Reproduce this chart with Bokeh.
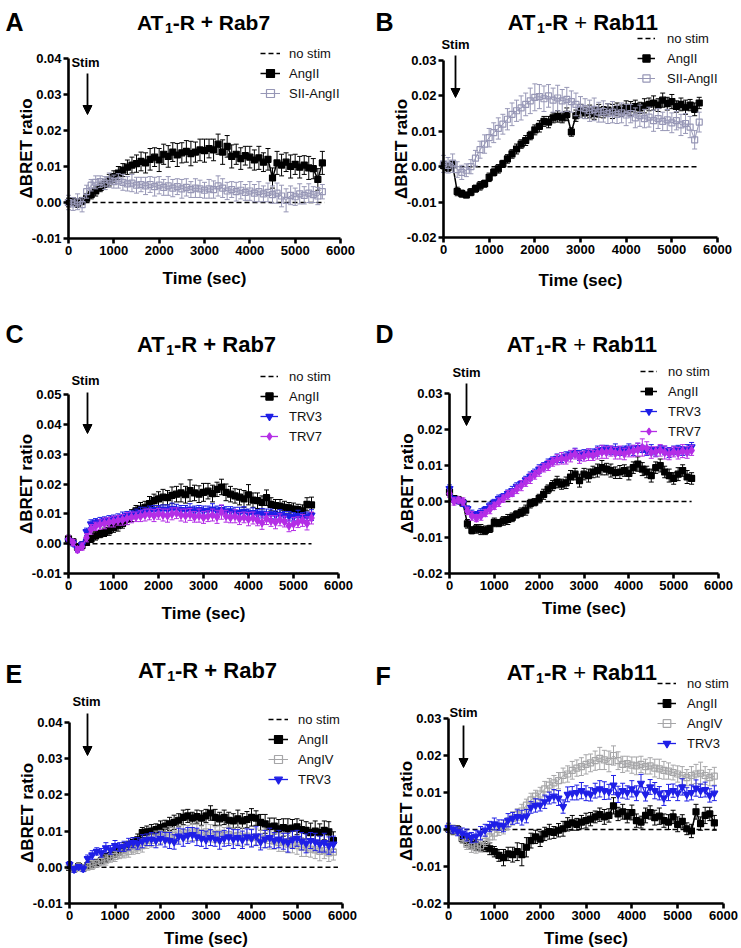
from bokeh.plotting import figure
from bokeh.models import (ColumnDataSource, Range1d, FixedTicker, PrintfTickFormatter,
                          Label, Arrow, NormalHead, Legend, LegendItem)
from bokeh.layouts import row, column
from bokeh.embed import file_html
from bokeh.resources import INLINE

FONT = "Liberation Sans"
X_TICKS = [0, 1000, 2000, 3000, 4000, 5000, 6000]
Y_TICKS_A = [-0.01, 0.0, 0.01, 0.02, 0.03, 0.04]
Y_TICKS_B = [-0.02, -0.01, 0.0, 0.01, 0.02, 0.03]
Y_TICKS_C = [-0.01, 0.0, 0.01, 0.02, 0.03, 0.04, 0.05]

# ---------------- Panel A : AT1-R + Rab7 ----------------
A_T = list(range(0, 5700, 100))
A_NOSTIM_T = [0, 5650]
A_NOSTIM_V = [0.0, 0.0]
A_ANGII = [0.0000, 0.0003, -0.0002, 0.0004, 0.0012, 0.0022, 0.0032, 0.0042, 0.0050, 0.0062,
           0.0072, 0.0082, 0.0090, 0.0098, 0.0104, 0.0108, 0.0114, 0.0110, 0.0120, 0.0126,
           0.0118, 0.0134, 0.0128, 0.0140, 0.0132, 0.0138, 0.0142, 0.0136, 0.0140, 0.0146,
           0.0144, 0.0150, 0.0146, 0.0162, 0.0140, 0.0156, 0.0128, 0.0134, 0.0122, 0.0130,
           0.0126, 0.0118, 0.0124, 0.0112, 0.0120, 0.0068, 0.0110, 0.0104, 0.0112, 0.0100,
           0.0106, 0.0098, 0.0104, 0.0096, 0.0094, 0.0064, 0.0110]
A_ANGII_ERR = [0.0012, 0.0010, 0.0012, 0.0010, 0.0012, 0.0012, 0.0014, 0.0012, 0.0014, 0.0016,
               0.0016, 0.0018, 0.0018, 0.0020, 0.0022, 0.0024, 0.0026, 0.0028, 0.0030, 0.0026,
               0.0032, 0.0028, 0.0030, 0.0026, 0.0032, 0.0028, 0.0030, 0.0034, 0.0028, 0.0030,
               0.0032, 0.0026, 0.0030, 0.0028, 0.0034, 0.0030, 0.0032, 0.0028, 0.0030, 0.0026,
               0.0030, 0.0028, 0.0032, 0.0026, 0.0030, 0.0028, 0.0032, 0.0030, 0.0026, 0.0032,
               0.0028, 0.0030, 0.0026, 0.0032, 0.0028, 0.0030, 0.0032]
A_SII = [0.0000, -0.0004, 0.0002, -0.0006, 0.0030, 0.0048, 0.0056, 0.0058, 0.0054, 0.0062,
         0.0058, 0.0060, 0.0056, 0.0052, 0.0054, 0.0048, 0.0050, 0.0046, 0.0050, 0.0044,
         0.0048, 0.0042, 0.0046, 0.0040, 0.0044, 0.0038, 0.0042, 0.0036, 0.0040, 0.0038,
         0.0034, 0.0038, 0.0036, 0.0046, 0.0040, 0.0032, 0.0036, 0.0030, 0.0034, 0.0028,
         0.0032, 0.0026, 0.0030, 0.0024, 0.0028, 0.0022, 0.0026, 0.0018, 0.0006, 0.0020,
         0.0016, 0.0024, 0.0020, 0.0026, 0.0022, 0.0018, 0.0030]
A_SII_ERR = [0.0020, 0.0018, 0.0022, 0.0020, 0.0018, 0.0016, 0.0018, 0.0016, 0.0018, 0.0020,
             0.0018, 0.0020, 0.0022, 0.0020, 0.0024, 0.0022, 0.0020, 0.0024, 0.0022, 0.0026,
             0.0024, 0.0022, 0.0026, 0.0024, 0.0022, 0.0026, 0.0024, 0.0022, 0.0026, 0.0024,
             0.0022, 0.0026, 0.0024, 0.0028, 0.0026, 0.0024, 0.0022, 0.0026, 0.0024, 0.0022,
             0.0026, 0.0024, 0.0028, 0.0022, 0.0026, 0.0024, 0.0028, 0.0030, 0.0032, 0.0026,
             0.0024, 0.0028, 0.0024, 0.0026, 0.0022, 0.0024, 0.0020]

# ---------------- Panel B : AT1-R + Rab11 ----------------
B_T = list(range(0, 5700, 100))
B_NOSTIM_T = [0, 5600]
B_NOSTIM_V = [0.0, 0.0]
B_ANGII = [0.0004, -0.0002, 0.0006, -0.0070, -0.0076, -0.0080, -0.0072, -0.0062, -0.0054, -0.0048,
           -0.0030, -0.0016, -0.0006, 0.0008, 0.0022, 0.0036, 0.0050, 0.0064, 0.0074, 0.0088,
           0.0104, 0.0114, 0.0128, 0.0126, 0.0138, 0.0142, 0.0138, 0.0148, 0.0098, 0.0144,
           0.0158, 0.0152, 0.0156, 0.0150, 0.0158, 0.0154, 0.0160, 0.0156, 0.0162, 0.0158,
           0.0168, 0.0164, 0.0170, 0.0166, 0.0172, 0.0176, 0.0180, 0.0174, 0.0188, 0.0178,
           0.0184, 0.0170, 0.0176, 0.0168, 0.0174, 0.0162, 0.0180]
B_ANGII_ERR = [0.0010, 0.0012, 0.0010, 0.0012, 0.0010, 0.0008, 0.0010, 0.0010, 0.0012, 0.0010,
               0.0012, 0.0010, 0.0012, 0.0010, 0.0012, 0.0012, 0.0014, 0.0012, 0.0014, 0.0012,
               0.0014, 0.0016, 0.0014, 0.0016, 0.0014, 0.0016, 0.0014, 0.0018, 0.0012, 0.0016,
               0.0018, 0.0016, 0.0018, 0.0016, 0.0018, 0.0016, 0.0018, 0.0020, 0.0018, 0.0016,
               0.0018, 0.0020, 0.0018, 0.0016, 0.0020, 0.0018, 0.0020, 0.0018, 0.0020, 0.0018,
               0.0020, 0.0016, 0.0018, 0.0020, 0.0016, 0.0018, 0.0016]
B_SII = [0.0008, 0.0004, 0.0010, -0.0008, -0.0016, -0.0010, 0.0000, 0.0024, 0.0048, 0.0064,
         0.0082, 0.0096, 0.0108, 0.0120, 0.0134, 0.0148, 0.0158, 0.0166, 0.0176, 0.0186,
         0.0196, 0.0198, 0.0192, 0.0200, 0.0188, 0.0194, 0.0186, 0.0190, 0.0184, 0.0176,
         0.0168, 0.0164, 0.0158, 0.0162, 0.0154, 0.0156, 0.0150, 0.0154, 0.0148, 0.0152,
         0.0146, 0.0150, 0.0138, 0.0144, 0.0136, 0.0140, 0.0130, 0.0136, 0.0128, 0.0132,
         0.0124, 0.0130, 0.0118, 0.0122, 0.0112, 0.0076, 0.0126]
B_SII_ERR = [0.0024, 0.0022, 0.0026, 0.0022, 0.0020, 0.0018, 0.0020, 0.0022, 0.0024, 0.0026,
             0.0026, 0.0028, 0.0030, 0.0028, 0.0030, 0.0032, 0.0030, 0.0034, 0.0032, 0.0036,
             0.0038, 0.0034, 0.0036, 0.0032, 0.0034, 0.0036, 0.0032, 0.0034, 0.0030, 0.0032,
             0.0030, 0.0028, 0.0030, 0.0032, 0.0028, 0.0030, 0.0028, 0.0030, 0.0026, 0.0028,
             0.0030, 0.0026, 0.0028, 0.0030, 0.0026, 0.0028, 0.0030, 0.0028, 0.0026, 0.0030,
             0.0028, 0.0026, 0.0030, 0.0028, 0.0030, 0.0026, 0.0028]

# ---------------- Panel C : AT1-R + Rab7 ----------------
C_T = list(range(0, 5500, 100))
C_NOSTIM_T = [0, 5400]
C_NOSTIM_V = [0.0, 0.0]
C_ANGII = [0.0016, 0.0006, -0.0012, -0.0006, 0.0004, 0.0016, 0.0026, 0.0032, 0.0038, 0.0044,
           0.0054, 0.0060, 0.0068, 0.0082, 0.0094, 0.0110, 0.0116, 0.0122, 0.0134, 0.0144,
           0.0150, 0.0156, 0.0154, 0.0162, 0.0166, 0.0170, 0.0164, 0.0178, 0.0170, 0.0166,
           0.0172, 0.0176, 0.0168, 0.0182, 0.0190, 0.0172, 0.0166, 0.0160, 0.0156, 0.0150,
           0.0164, 0.0146, 0.0144, 0.0138, 0.0154, 0.0132, 0.0128, 0.0126, 0.0122, 0.0120,
           0.0116, 0.0114, 0.0110, 0.0132, 0.0130]
C_ANGII_ERR = [0.0012, 0.0010, 0.0010, 0.0012, 0.0010, 0.0012, 0.0014, 0.0012, 0.0014, 0.0016,
               0.0016, 0.0018, 0.0016, 0.0018, 0.0020, 0.0018, 0.0022, 0.0020, 0.0024, 0.0022,
               0.0024, 0.0026, 0.0024, 0.0028, 0.0026, 0.0030, 0.0028, 0.0036, 0.0026, 0.0028,
               0.0030, 0.0026, 0.0028, 0.0024, 0.0026, 0.0028, 0.0026, 0.0024, 0.0026, 0.0028,
               0.0034, 0.0024, 0.0026, 0.0022, 0.0026, 0.0022, 0.0020, 0.0022, 0.0020, 0.0018,
               0.0020, 0.0018, 0.0020, 0.0022, 0.0026]
C_TRV3 = [0.0010, 0.0002, -0.0018, -0.0004, 0.0040, 0.0066, 0.0072, 0.0074, 0.0078, 0.0080,
          0.0084, 0.0086, 0.0090, 0.0094, 0.0098, 0.0102, 0.0106, 0.0108, 0.0110, 0.0114,
          0.0112, 0.0116, 0.0114, 0.0118, 0.0116, 0.0114, 0.0112, 0.0116, 0.0110, 0.0114,
          0.0110, 0.0112, 0.0116, 0.0110, 0.0114, 0.0108, 0.0110, 0.0106, 0.0104, 0.0108,
          0.0102, 0.0104, 0.0100, 0.0102, 0.0098, 0.0100, 0.0096, 0.0098, 0.0094, 0.0092,
          0.0090, 0.0094, 0.0088, 0.0092, 0.0096]
C_TRV3_ERR = [0.0010, 0.0010, 0.0008, 0.0010, 0.0012, 0.0014, 0.0012, 0.0014, 0.0012, 0.0014,
              0.0012, 0.0014, 0.0016, 0.0014, 0.0012, 0.0014, 0.0016, 0.0014, 0.0016, 0.0014,
              0.0016, 0.0014, 0.0016, 0.0018, 0.0016, 0.0014, 0.0016, 0.0018, 0.0016, 0.0014,
              0.0016, 0.0014, 0.0018, 0.0016, 0.0014, 0.0016, 0.0014, 0.0016, 0.0018, 0.0016,
              0.0014, 0.0016, 0.0014, 0.0016, 0.0018, 0.0016, 0.0014, 0.0016, 0.0014, 0.0016,
              0.0014, 0.0018, 0.0016, 0.0014, 0.0018]
C_TRV7 = [0.0016, 0.0004, -0.0020, -0.0010, 0.0020, 0.0048, 0.0058, 0.0064, 0.0068, 0.0072,
          0.0074, 0.0078, 0.0080, 0.0084, 0.0088, 0.0090, 0.0092, 0.0096, 0.0098, 0.0094,
          0.0100, 0.0096, 0.0094, 0.0100, 0.0102, 0.0096, 0.0094, 0.0098, 0.0090, 0.0094,
          0.0088, 0.0092, 0.0096, 0.0090, 0.0106, 0.0092, 0.0088, 0.0092, 0.0084, 0.0088,
          0.0082, 0.0086, 0.0078, 0.0070, 0.0084, 0.0076, 0.0072, 0.0080, 0.0074, 0.0060,
          0.0066, 0.0072, 0.0078, 0.0068, 0.0086]
C_TRV7_ERR = [0.0012, 0.0010, 0.0010, 0.0012, 0.0014, 0.0016, 0.0014, 0.0016, 0.0018, 0.0016,
              0.0018, 0.0016, 0.0018, 0.0020, 0.0018, 0.0016, 0.0018, 0.0020, 0.0018, 0.0020,
              0.0018, 0.0020, 0.0022, 0.0020, 0.0018, 0.0020, 0.0022, 0.0020, 0.0018, 0.0022,
              0.0020, 0.0018, 0.0020, 0.0022, 0.0024, 0.0020, 0.0018, 0.0022, 0.0020, 0.0018,
              0.0022, 0.0020, 0.0018, 0.0022, 0.0020, 0.0018, 0.0022, 0.0020, 0.0018, 0.0020,
              0.0022, 0.0018, 0.0020, 0.0022, 0.0020]

# ---------------- Panel D : AT1-R + Rab11 ----------------
D_T = list(range(0, 5500, 100))
D_NOSTIM_T = [0, 5400]
D_NOSTIM_V = [0.0, 0.0]
D_ANGII = [0.0026, 0.0008, 0.0004, -0.0004, -0.0062, -0.0080, -0.0076, -0.0078, -0.0080, -0.0076,
           -0.0058, -0.0060, -0.0054, -0.0050, -0.0044, -0.0036, -0.0030, -0.0024, -0.0006, -0.0002,
           0.0008, 0.0020, 0.0034, 0.0044, 0.0054, 0.0048, 0.0052, 0.0068, 0.0076, 0.0058,
           0.0076, 0.0072, 0.0082, 0.0086, 0.0094, 0.0090, 0.0086, 0.0080, 0.0082, 0.0086,
           0.0078, 0.0094, 0.0104, 0.0090, 0.0082, 0.0072, 0.0094, 0.0100, 0.0082, 0.0072,
           0.0064, 0.0076, 0.0086, 0.0068, 0.0064]
D_ANGII_ERR = [0.0010, 0.0008, 0.0010, 0.0008, 0.0012, 0.0010, 0.0012, 0.0014, 0.0012, 0.0010,
               0.0012, 0.0010, 0.0012, 0.0014, 0.0012, 0.0010, 0.0012, 0.0014, 0.0012, 0.0010,
               0.0012, 0.0014, 0.0012, 0.0014, 0.0016, 0.0014, 0.0016, 0.0018, 0.0016, 0.0018,
               0.0016, 0.0018, 0.0016, 0.0018, 0.0020, 0.0016, 0.0018, 0.0016, 0.0018, 0.0016,
               0.0018, 0.0016, 0.0020, 0.0018, 0.0016, 0.0018, 0.0016, 0.0018, 0.0016, 0.0018,
               0.0016, 0.0018, 0.0016, 0.0018, 0.0016]
D_TRV3 = [0.0036, 0.0006, 0.0002, -0.0004, -0.0020, -0.0034, -0.0036, -0.0030, -0.0022, -0.0012,
          -0.0002, 0.0008, 0.0014, 0.0022, 0.0030, 0.0042, 0.0050, 0.0060, 0.0070, 0.0080,
          0.0090, 0.0098, 0.0106, 0.0114, 0.0120, 0.0118, 0.0126, 0.0130, 0.0136, 0.0128,
          0.0132, 0.0136, 0.0134, 0.0140, 0.0144, 0.0146, 0.0142, 0.0146, 0.0140, 0.0144,
          0.0148, 0.0142, 0.0150, 0.0146, 0.0140, 0.0144, 0.0138, 0.0146, 0.0142, 0.0136,
          0.0142, 0.0146, 0.0140, 0.0144, 0.0152]
D_TRV3_ERR = [0.0010, 0.0008, 0.0008, 0.0010, 0.0008, 0.0010, 0.0008, 0.0010, 0.0008, 0.0010,
              0.0008, 0.0010, 0.0008, 0.0010, 0.0012, 0.0010, 0.0008, 0.0010, 0.0012, 0.0010,
              0.0012, 0.0010, 0.0012, 0.0010, 0.0012, 0.0010, 0.0012, 0.0010, 0.0012, 0.0014,
              0.0012, 0.0010, 0.0012, 0.0014, 0.0012, 0.0010, 0.0012, 0.0014, 0.0012, 0.0010,
              0.0012, 0.0014, 0.0012, 0.0010, 0.0012, 0.0014, 0.0012, 0.0010, 0.0012, 0.0014,
              0.0012, 0.0010, 0.0012, 0.0014, 0.0012]
D_TRV7 = [0.0022, 0.0000, 0.0004, 0.0000, -0.0026, -0.0040, -0.0046, -0.0040, -0.0032, -0.0022,
          -0.0012, -0.0002, 0.0008, 0.0018, 0.0024, 0.0034, 0.0044, 0.0054, 0.0064, 0.0074,
          0.0084, 0.0094, 0.0100, 0.0110, 0.0116, 0.0120, 0.0118, 0.0126, 0.0132, 0.0122,
          0.0126, 0.0130, 0.0128, 0.0134, 0.0138, 0.0136, 0.0140, 0.0134, 0.0136, 0.0132,
          0.0138, 0.0140, 0.0144, 0.0150, 0.0148, 0.0136, 0.0138, 0.0142, 0.0136, 0.0132,
          0.0138, 0.0134, 0.0140, 0.0136, 0.0142]
D_TRV7_ERR = [0.0010, 0.0010, 0.0008, 0.0010, 0.0010, 0.0012, 0.0010, 0.0012, 0.0010, 0.0012,
              0.0010, 0.0012, 0.0010, 0.0012, 0.0010, 0.0012, 0.0014, 0.0012, 0.0014, 0.0012,
              0.0014, 0.0012, 0.0014, 0.0012, 0.0014, 0.0016, 0.0014, 0.0016, 0.0014, 0.0016,
              0.0014, 0.0016, 0.0014, 0.0016, 0.0018, 0.0016, 0.0014, 0.0016, 0.0018, 0.0016,
              0.0014, 0.0016, 0.0018, 0.0024, 0.0018, 0.0016, 0.0014, 0.0016, 0.0018, 0.0016,
              0.0014, 0.0016, 0.0018, 0.0016, 0.0014]

# ---------------- Panel E : AT1-R + Rab7 ----------------
E_T = list(range(0, 5900, 100))
E_NOSTIM_T = [0, 5900]
E_NOSTIM_V = [0.0, 0.0]
E_ANGII = [0.0000, -0.0004, 0.0002, -0.0002, 0.0004, 0.0008, 0.0012, 0.0018, 0.0026, 0.0032,
           0.0040, 0.0046, 0.0054, 0.0060, 0.0068, 0.0076, 0.0096, 0.0098, 0.0100, 0.0104,
           0.0110, 0.0114, 0.0120, 0.0124, 0.0130, 0.0138, 0.0142, 0.0136, 0.0140, 0.0136,
           0.0142, 0.0150, 0.0138, 0.0134, 0.0138, 0.0130, 0.0128, 0.0134, 0.0128, 0.0132,
           0.0138, 0.0136, 0.0124, 0.0120, 0.0112, 0.0114, 0.0106, 0.0110, 0.0106, 0.0108,
           0.0112, 0.0104, 0.0102, 0.0096, 0.0100, 0.0096, 0.0102, 0.0098, 0.0074]
E_ANGII_ERR = [0.0008, 0.0008, 0.0010, 0.0008, 0.0010, 0.0008, 0.0010, 0.0010, 0.0012, 0.0010,
               0.0012, 0.0012, 0.0014, 0.0012, 0.0014, 0.0016, 0.0014, 0.0016, 0.0018, 0.0016,
               0.0018, 0.0016, 0.0018, 0.0020, 0.0018, 0.0020, 0.0018, 0.0016, 0.0018, 0.0020,
               0.0018, 0.0020, 0.0022, 0.0018, 0.0020, 0.0022, 0.0020, 0.0024, 0.0020, 0.0022,
               0.0024, 0.0020, 0.0022, 0.0026, 0.0024, 0.0022, 0.0026, 0.0024, 0.0028, 0.0024,
               0.0022, 0.0026, 0.0024, 0.0026, 0.0028, 0.0024, 0.0026, 0.0028, 0.0024]
E_ANGIV = [0.0002, -0.0004, 0.0000, -0.0002, 0.0002, 0.0006, 0.0010, 0.0016, 0.0020, 0.0026,
           0.0030, 0.0036, 0.0040, 0.0044, 0.0050, 0.0054, 0.0060, 0.0068, 0.0074, 0.0080,
           0.0084, 0.0088, 0.0090, 0.0088, 0.0092, 0.0096, 0.0094, 0.0098, 0.0096, 0.0094,
           0.0098, 0.0094, 0.0090, 0.0094, 0.0088, 0.0090, 0.0086, 0.0088, 0.0084, 0.0086,
           0.0082, 0.0084, 0.0078, 0.0080, 0.0074, 0.0072, 0.0068, 0.0070, 0.0064, 0.0062,
           0.0060, 0.0056, 0.0054, 0.0050, 0.0048, 0.0044, 0.0046, 0.0040, 0.0042]
E_ANGIV_ERR = [0.0008, 0.0008, 0.0010, 0.0008, 0.0010, 0.0012, 0.0010, 0.0012, 0.0014, 0.0012,
               0.0014, 0.0012, 0.0014, 0.0016, 0.0014, 0.0016, 0.0018, 0.0016, 0.0018, 0.0020,
               0.0018, 0.0020, 0.0022, 0.0020, 0.0022, 0.0020, 0.0022, 0.0024, 0.0022, 0.0020,
               0.0022, 0.0024, 0.0022, 0.0020, 0.0022, 0.0024, 0.0022, 0.0024, 0.0026, 0.0022,
               0.0024, 0.0022, 0.0024, 0.0026, 0.0024, 0.0022, 0.0024, 0.0026, 0.0024, 0.0022,
               0.0024, 0.0026, 0.0024, 0.0022, 0.0024, 0.0026, 0.0022, 0.0024, 0.0022]
E_TRV3 = [0.0008, -0.0006, 0.0002, -0.0004, 0.0024, 0.0034, 0.0044, 0.0040, 0.0054, 0.0048,
          0.0060, 0.0056, 0.0058, 0.0064, 0.0068, 0.0066, 0.0072, 0.0076, 0.0078, 0.0074,
          0.0080, 0.0076, 0.0074, 0.0070, 0.0086, 0.0082, 0.0088, 0.0090, 0.0084, 0.0080,
          0.0076, 0.0082, 0.0078, 0.0074, 0.0080, 0.0084, 0.0078, 0.0082, 0.0076, 0.0084,
          0.0080, 0.0086, 0.0070, 0.0078, 0.0082, 0.0074, 0.0078, 0.0072, 0.0068, 0.0076,
          0.0080, 0.0072, 0.0066, 0.0074, 0.0070, 0.0064, 0.0068, 0.0060, 0.0064]
E_TRV3_ERR = [0.0008, 0.0008, 0.0006, 0.0008, 0.0010, 0.0012, 0.0010, 0.0012, 0.0014, 0.0012,
              0.0014, 0.0012, 0.0014, 0.0016, 0.0014, 0.0016, 0.0018, 0.0016, 0.0018, 0.0020,
              0.0018, 0.0020, 0.0022, 0.0020, 0.0022, 0.0024, 0.0022, 0.0020, 0.0024, 0.0022,
              0.0024, 0.0022, 0.0020, 0.0024, 0.0022, 0.0024, 0.0026, 0.0022, 0.0024, 0.0022,
              0.0024, 0.0026, 0.0022, 0.0024, 0.0026, 0.0022, 0.0024, 0.0022, 0.0026, 0.0024,
              0.0022, 0.0024, 0.0026, 0.0022, 0.0024, 0.0022, 0.0026, 0.0024, 0.0022]

# ---------------- Panel F : AT1-R + Rab11 ----------------
F_T = list(range(0, 5900, 100))
F_NOSTIM_T = [0, 5850]
F_NOSTIM_V = [0.0, 0.0]
F_ANGII = [0.0002, -0.0002, 0.0000, -0.0024, -0.0030, -0.0038, -0.0042, -0.0048, -0.0046, -0.0052,
           -0.0060, -0.0070, -0.0076, -0.0066, -0.0068, -0.0060, -0.0068, -0.0048, -0.0030, -0.0020,
           -0.0026, -0.0012, -0.0006, -0.0008, -0.0002, 0.0002, 0.0014, 0.0018, 0.0014, 0.0020,
           0.0024, 0.0028, 0.0034, 0.0040, 0.0034, 0.0038, 0.0064, 0.0042, 0.0048, 0.0036,
           0.0046, 0.0024, 0.0020, 0.0038, 0.0046, 0.0032, 0.0036, 0.0024, 0.0020, 0.0034,
           0.0014, 0.0022, 0.0002, -0.0004, 0.0048, 0.0016, 0.0038, 0.0042, 0.0018]
F_ANGII_ERR = [0.0010, 0.0012, 0.0010, 0.0012, 0.0014, 0.0012, 0.0014, 0.0012, 0.0014, 0.0016,
               0.0014, 0.0016, 0.0022, 0.0018, 0.0020, 0.0024, 0.0030, 0.0026, 0.0020, 0.0018,
               0.0020, 0.0018, 0.0020, 0.0016, 0.0018, 0.0020, 0.0018, 0.0020, 0.0016, 0.0018,
               0.0020, 0.0018, 0.0016, 0.0018, 0.0020, 0.0018, 0.0022, 0.0018, 0.0020, 0.0018,
               0.0020, 0.0018, 0.0016, 0.0020, 0.0018, 0.0020, 0.0022, 0.0018, 0.0020, 0.0018,
               0.0020, 0.0018, 0.0016, 0.0018, 0.0020, 0.0018, 0.0022, 0.0018, 0.0020]
F_ANGIV = [0.0004, 0.0000, -0.0004, -0.0022, -0.0040, -0.0046, -0.0050, -0.0044, -0.0032, -0.0020,
           -0.0010, 0.0000, 0.0006, 0.0016, 0.0030, 0.0040, 0.0050, 0.0066, 0.0080, 0.0090,
           0.0096, 0.0110, 0.0120, 0.0126, 0.0132, 0.0146, 0.0150, 0.0160, 0.0166, 0.0170,
           0.0176, 0.0180, 0.0186, 0.0192, 0.0188, 0.0184, 0.0200, 0.0186, 0.0176, 0.0178,
           0.0174, 0.0172, 0.0176, 0.0170, 0.0172, 0.0166, 0.0164, 0.0160, 0.0158, 0.0154,
           0.0150, 0.0146, 0.0140, 0.0146, 0.0150, 0.0152, 0.0146, 0.0140, 0.0144]
F_ANGIV_ERR = [0.0010, 0.0012, 0.0010, 0.0012, 0.0014, 0.0016, 0.0014, 0.0016, 0.0014, 0.0016,
               0.0018, 0.0016, 0.0018, 0.0016, 0.0018, 0.0016, 0.0018, 0.0016, 0.0018, 0.0016,
               0.0018, 0.0020, 0.0018, 0.0020, 0.0022, 0.0020, 0.0022, 0.0024, 0.0022, 0.0024,
               0.0026, 0.0024, 0.0026, 0.0030, 0.0026, 0.0028, 0.0026, 0.0024, 0.0022, 0.0020,
               0.0022, 0.0024, 0.0022, 0.0020, 0.0022, 0.0024, 0.0026, 0.0024, 0.0022, 0.0020,
               0.0022, 0.0024, 0.0022, 0.0024, 0.0026, 0.0030, 0.0024, 0.0022, 0.0024]
F_TRV3 = [0.0005, 0.0000, -0.0005, -0.0010, -0.0015, -0.0022, -0.0018, -0.0010, -0.0002, 0.0008,
          0.0015, 0.0012, 0.0010, 0.0025, 0.0030, 0.0035, 0.0032, 0.0036, 0.0060, 0.0065,
          0.0066, 0.0075, 0.0085, 0.0090, 0.0085, 0.0062, 0.0095, 0.0098, 0.0100, 0.0105,
          0.0098, 0.0095, 0.0105, 0.0110, 0.0105, 0.0102, 0.0120, 0.0095, 0.0105, 0.0100,
          0.0110, 0.0098, 0.0125, 0.0095, 0.0115, 0.0105, 0.0098, 0.0085, 0.0100, 0.0105,
          0.0098, 0.0115, 0.0095, 0.0100, 0.0112, 0.0105, 0.0108, 0.0092, 0.0098]
F_TRV3_ERR = [0.0012, 0.0010, 0.0012, 0.0014, 0.0016, 0.0014, 0.0016, 0.0018, 0.0016, 0.0014,
              0.0016, 0.0014, 0.0016, 0.0018, 0.0016, 0.0018, 0.0020, 0.0018, 0.0016, 0.0018,
              0.0016, 0.0018, 0.0016, 0.0018, 0.0020, 0.0018, 0.0020, 0.0018, 0.0020, 0.0022,
              0.0020, 0.0018, 0.0020, 0.0022, 0.0024, 0.0020, 0.0026, 0.0022, 0.0020, 0.0018,
              0.0022, 0.0020, 0.0024, 0.0018, 0.0020, 0.0022, 0.0018, 0.0020, 0.0022, 0.0018,
              0.0020, 0.0022, 0.0018, 0.0020, 0.0022, 0.0018, 0.0020, 0.0018, 0.0020]

# ---------------- styles ----------------
STYLE = {
    "AngII":     dict(color="#000000", marker="square", size=6, fill="#000000", lw=1.5),
    "SII-AngII": dict(color="#9797b6", marker="square", size=6, fill=None, lw=1.0),
    "AngIV":     dict(color="#a6a6a8", marker="square", size=6, fill=None, lw=1.0),
    "TRV3":      dict(color="#1f1fe6", marker="inverted_triangle", size=7, fill="#1f1fe6", lw=1.3),
    "TRV7":      dict(color="#b42ee6", marker="diamond", size=8, fill="#b42ee6", lw=1.3),
}

# Arial/Liberation advance widths (1/1000 em), used to lay out the title pieces
ADV = {'A': 722, 'T': 611, '1': 556, '-': 333, 'R': 722, ' ': 278, '+': 584,
       'a': 556, 'b': 611, '7': 556}

# layout in pixels of each panel's own canvas (origin top-left)
PANELS = {
    "A": dict(size=(370, 310), frame=(68, 58, 340, 238), yr=(-0.01, 0.04), yt=Y_TICKS_A,
              letter=(5, 21), title=(203, 21.5, "Rab7", 21, True), stim=(85, 61.5),
              arrow=(87, 73, 114), legend=(260, 103, 20, 9), xls=11),
    "B": dict(size=(371, 310), frame=(73, 60, 347, 237), yr=(-0.02, 0.03), yt=Y_TICKS_B,
              letter=(5, 21), title=(213, 21.5, "Rab11", 22, False), stim=(85, 44),
              arrow=(85, 55, 97), legend=(267, 88, 18, 12), xls=14),
    "C": dict(size=(370, 320), frame=(68, 84, 338, 263), yr=(-0.01, 0.05), yt=Y_TICKS_C,
              letter=(5, 23), title=(206, 33.5, "Rab7", 22, True), stim=(85, 70),
              arrow=(87, 82, 123), legend=(260, 136, 18, 11), xls=11),
    "D": dict(size=(371, 320), frame=(79, 83, 348, 263), yr=(-0.02, 0.03), yt=Y_TICKS_B,
              letter=(5, 23), title=(212, 33.5, "Rab11", 22, False), stim=(96, 62),
              arrow=(96, 73, 115), legend=(270, 131, 17, 11), xls=6),
    "E": dict(size=(370, 318), frame=(69, 92, 342, 273), yr=(-0.01, 0.04), yt=Y_TICKS_A,
              letter=(5, 43), title=(207, 39.5, "Rab7", 22, True), stim=(86, 71),
              arrow=(87, 83, 125), legend=(268, 159, 20, 10), xls=6),
    "F": dict(size=(371, 318), frame=(78, 88, 353, 273), yr=(-0.02, 0.03), yt=Y_TICKS_B,
              letter=(5, 45), title=(212, 41.5, "Rab11", 22, False), stim=(93, 82),
              arrow=(93, 95, 137), legend=(287, 123, 19, 11), xls=6),
}


def make_panel(key, series, nostim):
    cfg = PANELS[key]
    W, H = cfg["size"]
    l, t, r, b = cfg["frame"]
    y0, y1 = cfg["yr"]
    sx = 6000.0 / (r - l)          # data units per pixel
    sy = (y1 - y0) / (b - t)
    x_start, x_end = -l * sx, (W - l) * sx
    y_end, y_start = y1 + t * sy, y0 - (H - b) * sy

    p = figure(width=W, height=H, output_backend="svg", toolbar_location=None, title=None,
               x_range=Range1d(x_start, x_end), y_range=Range1d(y_start, y_end),
               min_border=0)
    p.outline_line_color = None
    p.grid.visible = False
    p.background_fill_color = "white"
    p.border_fill_color = "white"

    p.xaxis.fixed_location = y0
    p.yaxis.fixed_location = 0
    p.xaxis.bounds = (0, 6000)
    p.yaxis.bounds = (y0, y1)
    p.xaxis.ticker = FixedTicker(ticks=X_TICKS)
    p.yaxis.ticker = FixedTicker(ticks=cfg["yt"])
    p.yaxis.formatter = PrintfTickFormatter(format="%.2f")
    p.xaxis.axis_label = "Time (sec)"
    p.yaxis.axis_label = "\u0394BRET ratio"
    for ax in (p.xaxis, p.yaxis):
        ax.axis_line_width = 2.6
        ax.axis_line_color = "black"
        ax.major_tick_line_width = 2.6
        ax.major_tick_line_color = "black"
        ax.major_tick_in = 0
        ax.major_tick_out = 5
        ax.minor_tick_line_color = None
        ax.major_label_text_font = FONT
        ax.major_label_text_font_style = "bold"
        ax.major_label_text_font_size = "13px"
        ax.major_label_text_color = "black"
        ax.axis_label_text_font = FONT
        ax.axis_label_text_font_style = "bold"
        ax.axis_label_text_font_size = "17px"
        ax.axis_label_text_color = "black"
    p.xaxis.major_label_standoff = 2
    p.yaxis.major_label_standoff = 2
    p.xaxis.axis_label_standoff = cfg["xls"]
    p.yaxis.axis_label_standoff = -7

    def dx(cx):
        return x_start + cx * sx

    def dy(cy):
        return y_end - cy * sy

    cap = 2.5 * sx

    r0 = p.line(nostim[0], nostim[1], line_color="black", line_width=1.5, line_dash="5 3")
    items = [LegendItem(label="no stim", renderers=[r0])]
    for name, ts, vs, es in series:
        st = STYLE[name]
        c = st["color"]
        src = ColumnDataSource(dict(
            t=ts, v=vs,
            up=[v + e for v, e in zip(vs, es)],
            lo=[v - e for v, e in zip(vs, es)],
            cl=[x - cap for x in ts], cr=[x + cap for x in ts]))
        p.segment(x0="t", y0="lo", x1="t", y1="up", source=src, line_color=c, line_width=1)
        p.segment(x0="cl", y0="up", x1="cr", y1="up", source=src, line_color=c, line_width=1)
        p.segment(x0="cl", y0="lo", x1="cr", y1="lo", source=src, line_color=c, line_width=1)
        lr = p.line("t", "v", source=src, line_color=c, line_width=st["lw"])
        sr = p.scatter("t", "v", source=src, marker=st["marker"], size=st["size"],
                       fill_color=st["fill"], line_color=c, line_width=1.2)
        items.append(LegendItem(label=name, renderers=[lr, sr]))

    lx, lb, gw, ls = cfg["legend"]
    legend = Legend(items=items, location=(lx, H - lb), orientation="vertical",
                    border_line_color=None, background_fill_alpha=0,
                    padding=0, margin=0, spacing=0,
                    label_height=20, glyph_height=20, glyph_width=gw,
                    label_standoff=ls, label_text_font=FONT,
                    label_text_font_size="13px", label_text_color="#111111")
    p.add_layout(legend)

    # panel letter
    lcx, lcy = cfg["letter"]
    p.add_layout(Label(x=dx(lcx), y=dy(lcy), text=key, text_font=FONT,
                       text_font_size="25px", text_font_style="bold",
                       text_align="left", text_baseline="alphabetic", text_color="black"))

    # title "AT1-R + RabX" with subscript
    tcx, base, rab, size, plus_bold = cfg["title"]
    sub = 14
    pieces = [("AT", size, "bold", 0), ("1", sub, "bold", 6), ("-R", size, "bold", 0),
              (" ", size, "bold", 0), ("+", size, "bold" if plus_bold else "normal", 0),
              (" ", size, "bold", 0), (rab, size, "bold", 0)]
    widths = [sum(ADV[ch] for ch in txt) * sz / 1000.0 for txt, sz, _, _ in pieces]
    x = tcx - sum(widths) / 2.0
    for (txt, sz, style, off), w in zip(pieces, widths):
        if txt.strip():
            p.add_layout(Label(x=dx(x), y=dy(base + off), text=txt, text_font=FONT,
                               text_font_size=f"{sz}px", text_font_style=style,
                               text_align="left", text_baseline="alphabetic",
                               text_color="black"))
        x += w

    # Stim marker
    scx, scy = cfg["stim"]
    p.add_layout(Label(x=dx(scx), y=dy(scy), text="Stim", text_font=FONT,
                       text_font_size="13px", text_font_style="bold",
                       text_align="center", text_baseline="middle", text_color="black"))
    acx, a0, a1 = cfg["arrow"]
    p.add_layout(Arrow(x_start=dx(acx), y_start=dy(a0), x_end=dx(acx), y_end=dy(a1),
                       line_width=1.8, line_color="black",
                       end=NormalHead(size=9, fill_color="black", line_color="black",
                                      line_width=1)))
    return p


pA = make_panel("A", [("AngII", A_T, A_ANGII, A_ANGII_ERR),
                      ("SII-AngII", A_T, A_SII, A_SII_ERR)], (A_NOSTIM_T, A_NOSTIM_V))
pB = make_panel("B", [("AngII", B_T, B_ANGII, B_ANGII_ERR),
                      ("SII-AngII", B_T, B_SII, B_SII_ERR)], (B_NOSTIM_T, B_NOSTIM_V))
pC = make_panel("C", [("AngII", C_T, C_ANGII, C_ANGII_ERR),
                      ("TRV3", C_T, C_TRV3, C_TRV3_ERR),
                      ("TRV7", C_T, C_TRV7, C_TRV7_ERR)], (C_NOSTIM_T, C_NOSTIM_V))
pD = make_panel("D", [("AngII", D_T, D_ANGII, D_ANGII_ERR),
                      ("TRV3", D_T, D_TRV3, D_TRV3_ERR),
                      ("TRV7", D_T, D_TRV7, D_TRV7_ERR)], (D_NOSTIM_T, D_NOSTIM_V))
pE = make_panel("E", [("AngII", E_T, E_ANGII, E_ANGII_ERR),
                      ("AngIV", E_T, E_ANGIV, E_ANGIV_ERR),
                      ("TRV3", E_T, E_TRV3, E_TRV3_ERR)], (E_NOSTIM_T, E_NOSTIM_V))
pF = make_panel("F", [("AngII", F_T, F_ANGII, F_ANGII_ERR),
                      ("AngIV", F_T, F_ANGIV, F_ANGIV_ERR),
                      ("TRV3", F_T, F_TRV3, F_TRV3_ERR)], (F_NOSTIM_T, F_NOSTIM_V))

layout = column(row(pA, pB), row(pC, pD), row(pE, pF))
open("out.html", "w").write(file_html(layout, INLINE))
